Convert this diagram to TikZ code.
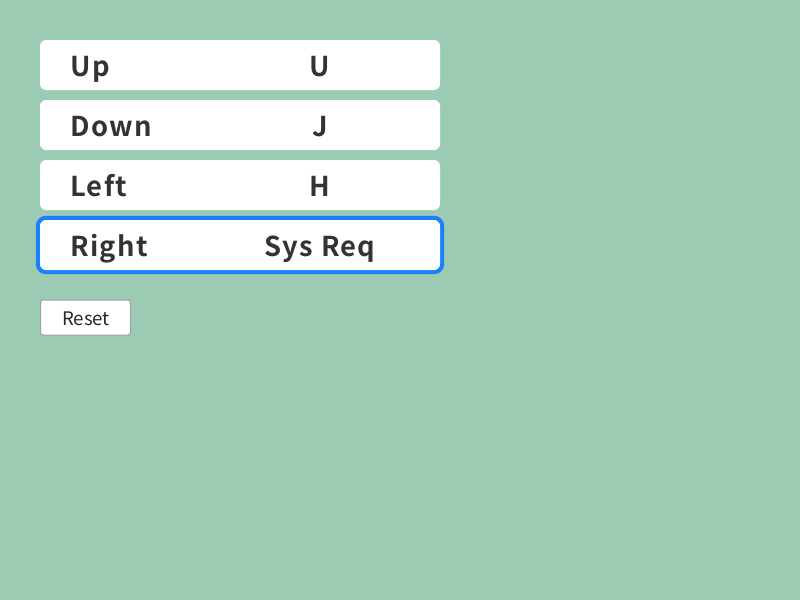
\documentclass[tikz,border=0pt]{standalone}
\usepackage{fontspec}
\setmainfont{Noto Sans CJK JP}
\newfontfamily\keyfont[BoldFont={* Bold},LetterSpace=5]{Noto Sans CJK JP}
\usetikzlibrary{positioning}

\definecolor{bgmint}{HTML}{9BCBB3}
\definecolor{keytext}{HTML}{333333}
\definecolor{focusblue}{HTML}{1A7FFF}
\definecolor{btnedge}{HTML}{A0A0A0}

\begin{document}
\begin{tikzpicture}[
                x=0.75pt, y=-0.75pt,
                rowbox/.style={
                        draw=none,
                        fill=white,
                        rounded corners=4.5pt,
                        minimum width=300pt,
                        minimum height=37.5pt,
                        inner sep=0pt
                    },
                actlabel/.style={
                        anchor=base west,
                        inner sep=0pt,
                        text=keytext,
                        font=\keyfont\bfseries\fontsize{20.5}{23}\selectfont
                    },
                keylabel/.style={
                        anchor=base,
                        inner sep=0pt,
                        text=keytext,
                        font=\keyfont\bfseries\fontsize{20.5}{23}\selectfont
                    }
            ]

            % Fundo
            \fill[bgmint] (0,0) rectangle (800,600);
            \useasboundingbox (0,0) rectangle (800,600);

            % Linhas da tabela
            \node[rowbox] (up) at (240, 65) {};
            \node[rowbox] (down) at (240, 125) {};
            \node[rowbox] (left) at (240, 185) {};
            \node[rowbox, draw=focusblue, line width=3.3pt, outer sep=0pt,
                  rounded corners=6pt, minimum width=303pt, minimum height=40.5pt] (right) at (240, 245) {};
            \fill[white, rounded corners=4.5pt] (40,220) rectangle (440,270);

            % Textos das ações e teclas
            \node[actlabel] (upname) at (70, 76.5) {Up};
            \node[keylabel] (upkey) at (320, 76.5) {U};
            \node[actlabel] (downname) at (70, 136.5) {Down};
            \node[keylabel] (downkey) at (320, 136.5) {J};
            \node[actlabel] (leftname) at (70, 196.5) {Left};
            \node[keylabel] (leftkey) at (320, 196.5) {H};
            \node[actlabel] (rightname) at (70, 256.5) {Right};
            \node[keylabel] (rightkey) at (320, 256.5) {Sys Req};

            % Botão
            \node[draw=btnedge, fill=white, rounded corners=2pt, line width=0.75pt,
                  minimum width=67.5pt, minimum height=26.25pt, inner sep=0pt,
                  text=keytext!80!black, font=\fontsize{14}{16}\selectfont] (reset) at (85.5, 317.5) {};
            \node[anchor=base, inner sep=0pt, text=keytext!80!black,
                  font=\fontsize{14}{16}\selectfont] (resettext) at (86, 325.8) {Reset};

        \end{tikzpicture}
\end{document}
